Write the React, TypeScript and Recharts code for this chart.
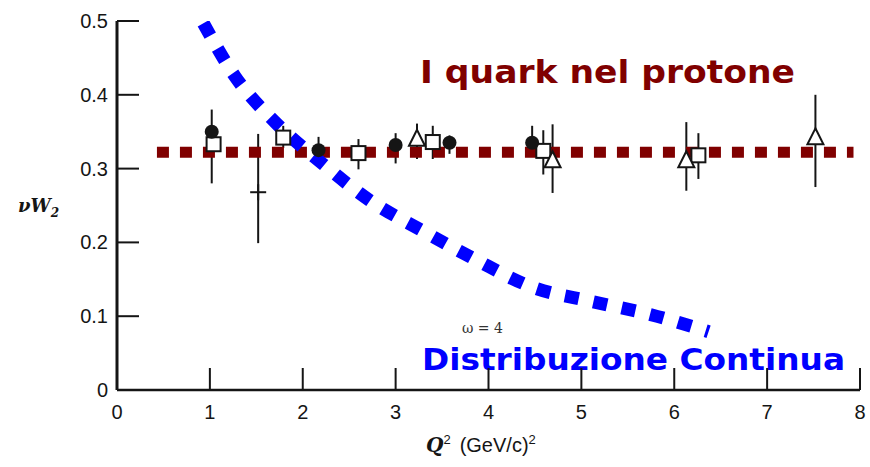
import { ComposedChart, XAxis, YAxis, Scatter, Line, ErrorBar } from 'recharts';

const xTicks = [0, 1, 2, 3, 4, 5, 6, 7, 8];
const yTicks = [0, 0.1, 0.2, 0.3, 0.4, 0.5];

// err = [below, above]
const filledCircles = [
  { x: 1.02, y: 0.35, err: [0.07, 0.03] },
  { x: 2.17, y: 0.325, err: [0.011, 0.018] },
  { x: 3.0, y: 0.332, err: [0.025, 0.016] },
  { x: 3.58, y: 0.335, err: [0.015, 0.01] },
  { x: 4.47, y: 0.335, err: [0.005, 0.023] },
];

const openSquares = [
  { x: 1.04, y: 0.333, err: [0.005, 0.005] },
  { x: 1.79, y: 0.342, err: [0.014, 0.016] },
  { x: 2.6, y: 0.321, err: [0.022, 0.019] },
  { x: 3.4, y: 0.336, err: [0.023, 0.022] },
  { x: 4.59, y: 0.324, err: [0.032, 0.028] },
  { x: 6.26, y: 0.318, err: [0.032, 0.03] },
];

const openTriangles = [
  { x: 3.23, y: 0.339, err: [0.026, 0.022] },
  { x: 4.69, y: 0.31, err: [0.043, 0.05] },
  { x: 6.13, y: 0.31, err: [0.04, 0.053] },
  { x: 7.52, y: 0.341, err: [0.066, 0.059] },
];

const crosses = [{ x: 1.52, y: 0.268, err: [0.069, 0.079] }];

const quarkLevel = [
  { x: 0.43, y: 0.322 },
  { x: 7.93, y: 0.322 },
];

const continuumCurve = [
  { x: 0.93, y: 0.497 },
  { x: 1.27, y: 0.425 },
  { x: 1.71, y: 0.362 },
  { x: 2.22, y: 0.306 },
  { x: 2.72, y: 0.257 },
  { x: 3.3, y: 0.215 },
  { x: 3.87, y: 0.176 },
  { x: 4.48, y: 0.139 },
  { x: 5.11, y: 0.12 },
  { x: 5.75, y: 0.102 },
  { x: 6.37, y: 0.079 },
];

const ink = '#151515';

const YTick = ({ x, y, payload }: any) => (
  <g>
    <line x1={x} x2={x + 22} y1={y} y2={y} stroke={ink} strokeWidth={2} />
    <text x={x - 9} y={y + 7} textAnchor="end" fontSize={20} fontFamily="Liberation Sans, Arial, sans-serif" fill={ink}>
      {payload.value === 0 ? '0' : payload.value.toFixed(1)}
    </text>
  </g>
);

const XTick = ({ x, y, payload }: any) => (
  <g>
    {payload.value !== 0 && <line x1={x} x2={x} y1={y} y2={y - 22} stroke={ink} strokeWidth={2} />}
    <text x={x} y={y + 29} textAnchor="middle" fontSize={20} fontFamily="Liberation Sans, Arial, sans-serif" fill={ink}>
      {payload.value}
    </text>
  </g>
);

const FilledCircle = ({ cx, cy }: any) => <circle cx={cx} cy={cy} r={7} fill={ink} />;
const OpenSquare = ({ cx, cy }: any) => (
  <rect x={cx - 7} y={cy - 7} width={14} height={14} fill="#fff" stroke={ink} strokeWidth={2} />
);
const OpenTriangle = ({ cx, cy }: any) => (
  <polygon points={`${cx},${cy - 10} ${cx - 8},${cy + 6} ${cx + 8},${cy + 6}`} fill="#fff" stroke={ink} strokeWidth={2} />
);
const Cross = ({ cx, cy }: any) => (
  <g stroke={ink} strokeWidth={2}>
    <line x1={cx - 8} x2={cx + 8} y1={cy} y2={cy} />
    <line x1={cx} x2={cx} y1={cy - 8} y2={cy + 8} />
  </g>
);

export default function App() {
  return (
    <div style={{ position: 'absolute', left: 0, top: 0, background: '#fff' }}>
      <ComposedChart width={870} height={467} margin={{ top: 21, right: 10, left: 0, bottom: 0 }}>
        <XAxis
          type="number"
          dataKey="x"
          domain={[0, 8]}
          ticks={xTicks}
          height={77}
          tickSize={0}
          tickMargin={0}
          tick={<XTick />}
          axisLine={{ stroke: ink, strokeWidth: 2.5 }}
          tickLine={false}
          allowDataOverflow
        />
        <YAxis
          type="number"
          dataKey="y"
          domain={[0, 0.5]}
          ticks={yTicks}
          width={117}
          tickSize={0}
          tickMargin={0}
          tick={<YTick />}
          axisLine={{ stroke: ink, strokeWidth: 3 }}
          tickLine={false}
          allowDataOverflow
        />
        <Scatter data={crosses} dataKey="y" shape={<Cross />} isAnimationActive={false}>
          <ErrorBar dataKey="err" direction="y" width={0} stroke={ink} strokeWidth={2} />
        </Scatter>
        <Scatter data={openSquares} dataKey="y" shape={<OpenSquare />} isAnimationActive={false}>
          <ErrorBar dataKey="err" direction="y" width={0} stroke={ink} strokeWidth={2} />
        </Scatter>
        <Scatter data={openTriangles} dataKey="y" shape={<OpenTriangle />} isAnimationActive={false}>
          <ErrorBar dataKey="err" direction="y" width={0} stroke={ink} strokeWidth={2} />
        </Scatter>
        <Scatter data={filledCircles} dataKey="y" shape={<FilledCircle />} isAnimationActive={false}>
          <ErrorBar dataKey="err" direction="y" width={0} stroke={ink} strokeWidth={2} />
        </Scatter>
        <Line
          data={quarkLevel}
          dataKey="y"
          stroke="#800000"
          strokeWidth={11}
          strokeDasharray="12 11"
          dot={false}
          activeDot={false}
          isAnimationActive={false}
        />
        <Line
          data={continuumCurve}
          dataKey="y"
          type="monotone"
          stroke="#0000ff"
          strokeWidth={13}
          strokeDasharray="14 15"
          dot={false}
          activeDot={false}
          isAnimationActive={false}
        />
        <text x={462} y={333} fontSize={14} fontFamily="DejaVu Serif, serif" fill="#333">ω = 4</text>
        <text
          x={420}
          y={83}
          fontSize={32}
          fontWeight="bold"
          fontFamily="'Comic Sans MS', 'DejaVu Sans', sans-serif"
          fill="#800000"
          textLength={375}
          lengthAdjust="spacingAndGlyphs"
        >
          I quark nel protone
        </text>
        <text
          x={422}
          y={370}
          fontSize={31}
          fontWeight="bold"
          fontFamily="'Comic Sans MS', 'DejaVu Sans', sans-serif"
          fill="#0000ff"
          textLength={423}
          lengthAdjust="spacingAndGlyphs"
        >
          Distribuzione Continua
        </text>
        <text x={18} y={212} fontSize={18} fontStyle="italic" fontWeight="bold" fontFamily="DejaVu Serif, serif" fill={ink}>
          νW<tspan dy={5} fontSize={12}>2</tspan>
        </text>
        <text x={426} y={452} fontSize={20} fill={ink} fontFamily="Liberation Sans, Arial, sans-serif">
          <tspan fontStyle="italic" fontWeight="bold" fontFamily="DejaVu Serif, serif">Q</tspan>
          <tspan dy={-8} fontSize={13}>2</tspan>
          <tspan dy={8} dx={9}>(GeV/c)</tspan>
          <tspan dy={-8} fontSize={13}>2</tspan>
        </text>
      </ComposedChart>
    </div>
  );
}
